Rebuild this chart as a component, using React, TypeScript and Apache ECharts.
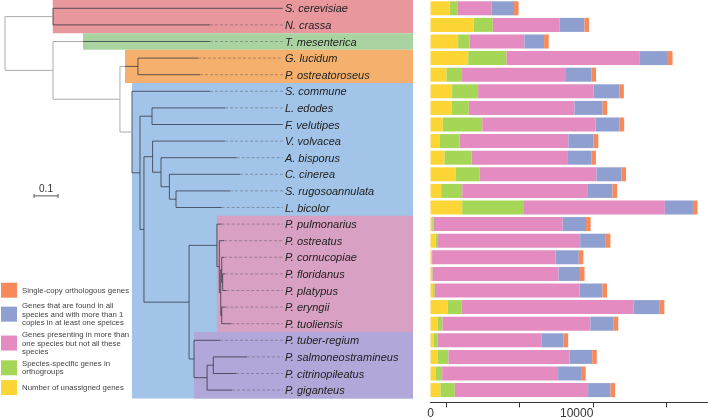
import React, { useEffect, useRef } from "react";
import * as echarts from "echarts";

// ---------- data ----------
const species = [
  "S. cerevisiae", "N. crassa", "T. mesenterica", "G. lucidum", "P. ostreatoroseus",
  "S. commune", "L. edodes", "F. velutipes", "V. volvacea", "A. bisporus",
  "C. cinerea", "S. rugosoannulata", "L. bicolor", "P. pulmonarius", "P. ostreatus",
  "P. cornucopiae", "P. floridanus", "P. platypus", "P. eryngii", "P. tuoliensis",
  "P. tuber-regium", "P. salmoneostramineus", "P. citrinopileatus", "P. giganteus",
];
const unassigned = [1320, 2960, 1890, 2580, 1090, 1480, 1440, 840, 620, 960, 1710, 730, 2170, 120, 360, 70, 110, 180, 1180, 500, 230, 500, 340, 680];
const speciesSpecific = [510, 1300, 790, 2620, 1070, 1780, 1180, 2700, 1370, 1850, 1660, 1440, 4170, 100, 100, 40, 30, 110, 960, 320, 270, 730, 460, 980];
const multiNotAll = [2350, 4580, 3740, 9080, 7050, 7890, 7230, 7750, 7440, 6590, 7980, 8550, 9690, 8820, 9780, 8440, 8620, 9900, 11740, 10120, 7090, 8280, 7930, 9120];
const allMultiCopy = [1530, 1690, 1350, 1960, 1800, 1760, 1920, 1640, 1730, 1600, 1710, 1730, 1920, 1600, 1750, 1590, 1460, 1570, 1800, 1590, 1510, 1550, 1570, 1530];
const singleCopy = [315, 315, 315, 315, 315, 315, 315, 315, 315, 315, 315, 315, 315, 315, 315, 315, 315, 315, 315, 315, 315, 315, 315, 315];

const seriesNames = [
  "Number of unassigned genes",
  "Species-specific genes in\northogroups",
  "Genes presenting in more than\none species but not all these\nspecies",
  "Genes that are found in all\nspecies and with more than 1\ncopies in at least one speices",
  "Single-copy orthologous genes",
];
const seriesColors = ["#FDD535", "#A6D656", "#E48CC2", "#8E9FD0", "#F78A5A"];

const axisLabelValues = [0, 10000];
const axisTickValues = [1100, 6100, 11100, 16100];

// tree (Newick, branch lengths)
const cladeA = "(P. pulmonarius:0.02,(P. ostreatus:0.02,((P. cornucopiae:0.01,(P. floridanus:0.01,P. platypus:0.015):0.004):0.004,(P. eryngii:0.015,P. tuoliensis:0.04):0.004):0.006):0.01)";
const cladeB = "(P. tuber-regium:0.1085,((P. salmoneostramineus:0.14,P. citrinopileatus:0.0945):0.026,P. giganteus:0.104):0.0545)";
const agaricales = "(V. volvacea:0.302,(A. bisporus:0.315,(C. cinerea:0.294,(S. rugosoannulata:0.225,L. bicolor:0.19):0.0275):0.035):0.035)";
const agaricomycetes = "(S. commune:0.325,((L. edodes:0.3045,F. velutipes:0.5455):0.05,(" + agaricales + ":0.036,(" + cladeA + ":0.116," + cladeB + ":0.0205):0.188):0.0165):0.0335)";
const polyporales = "(G. lucidum:0.25,P. ostreatoroseus:0.2585)";
const treeNewick = "((S. cerevisiae:0.958,N. crassa:0.654):0.2,(T. mesenterica:0.654,(" + polyporales + ":0.075," + agaricomycetes + ":0.05):0.279):0.2);";
const scaleBarLength = 0.1;

// highlighted clades
const regionColors = ["#A1C4E8", "#E8979C", "#A9D4A1", "#F4B06C", "#D8A0C2", "#B1A7D8"];
const regionStart = [0.529, 0.199, 0.325, 0.5, 0.883, 0.7875];
const regionFirstRow = [5, 0, 2, 3, 13, 20];
const regionLastRow = [23, 1, 2, 4, 19, 23];

// ---------- layout constants ----------
const FONT = "Liberation Sans, Arial, sans-serif";
const TREE_MAX = 1.7;
const LABEL_DEPTH = 1.158;
const ROW_H = 16.6;
const PLOT_H = ROW_H * species.length;
const LIGHT = 0;
const DARK = 1;
const DASH = 2;
const SCALE = 3;

type TNode = { name: string; len: number; children: TNode[]; depth?: number; y?: number };

function parseNewick(s: string): TNode {
  let i = 0;
  function node(): TNode {
    const n: TNode = { name: "", len: 0, children: [] };
    if (s[i] === "(") {
      i++;
      n.children.push(node());
      while (s[i] === ",") {
        i++;
        n.children.push(node());
      }
      i++;
    }
    let name = "";
    while (i < s.length && !",():;".includes(s[i])) name += s[i++];
    n.name = name.trim();
    if (s[i] === ":") {
      i++;
      let num = "";
      while (i < s.length && !",();".includes(s[i])) num += s[i++];
      n.len = parseFloat(num);
    }
    return n;
  }
  return node();
}

function regionStartForRow(y: number): number {
  const r = Math.round(y);
  let best = Infinity;
  for (let k = 0; k < regionStart.length; k++) {
    if (r >= regionFirstRow[k] && r <= regionLastRow[k]) best = Math.min(best, regionStart[k]);
  }
  return best;
}

function buildSegments() {
  const root = parseNewick(treeNewick);
  const segs: number[][] = [];
  const eps = 0.004;
  function addH(x1: number, x2: number, y: number) {
    const s = regionStartForRow(y);
    if (x2 <= s + eps) segs.push([x1, y, x2, y, LIGHT]);
    else if (x1 >= s - eps) segs.push([x1, y, x2, y, DARK]);
    else {
      segs.push([x1, y, s, y, LIGHT]);
      segs.push([s, y, x2, y, DARK]);
    }
  }
  function addV(x: number, y1: number, y2: number) {
    const inside = regionStartForRow(y1) <= x + eps && regionStartForRow(y2) <= x + eps;
    segs.push([x, y1, x, y2, inside ? DARK : LIGHT]);
  }
  function walk(n: TNode, parentDepth: number, isRoot: boolean) {
    n.depth = isRoot ? 0 : parentDepth + n.len;
    if (n.children.length === 0) {
      n.y = species.indexOf(n.name);
    } else {
      n.children.forEach((c) => walk(c, n.depth!, false));
      const ys = n.children.map((c) => c.y!);
      n.y = (Math.min(...ys) + Math.max(...ys)) / 2;
      addV(n.depth, Math.min(...ys), Math.max(...ys));
    }
    if (!isRoot) addH(parentDepth, n.depth, n.y);
    if (n.children.length === 0 && n.depth < LABEL_DEPTH - eps) {
      segs.push([n.depth, n.y, LABEL_DEPTH, n.y, DASH]);
    }
  }
  walk(root, 0, true);
  return segs;
}

export default function App() {
  const ref = useRef<HTMLDivElement>(null);
  useEffect(() => {
    const chart = echarts.init(ref.current!, null, { renderer: "svg" });
    const segs = buildSegments();
    segs.push([0.121, 11.3, 0.121 + scaleBarLength, 11.3, SCALE]);

    const regionData = regionColors.map((_, k) => [regionStart[k], regionFirstRow[k], regionLastRow[k], k]);
    const labelData = species.map((_, k) => [LABEL_DEPTH, k]);
    const barSeriesData = [unassigned, speciesSpecific, multiNotAll, allMultiCopy, singleCopy];

    const option: any = {
      animation: false,
      textStyle: { fontFamily: FONT },
      grid: [
        { left: 5, right: 295, top: 0, height: PLOT_H, outerBoundsMode: "none" },
        { left: 430.5, right: 0, top: 0, height: PLOT_H, outerBoundsMode: "none" },
      ],
      xAxis: [
        { gridIndex: 0, type: "value", min: 0, max: TREE_MAX, show: false },
        {
          gridIndex: 1,
          type: "value",
          min: 0,
          max: 18980,
          offset: 4,
          axisLine: { show: true, lineStyle: { color: "#333", width: 1 } },
          axisTick: { show: true, customValues: axisTickValues, length: 5, lineStyle: { color: "#333" } },
          axisLabel: {
            customValues: axisLabelValues,
            formatter: (v: number) => String(v),
            fontSize: 12,
            color: "#333",
            margin: 5,
            fontFamily: FONT,
          },
          splitLine: { show: false },
        },
      ],
      yAxis: [
        { gridIndex: 0, type: "value", min: -0.5, max: species.length - 0.5, inverse: true, show: false },
        { gridIndex: 1, type: "category", data: species, inverse: true, show: false },
      ],
      legend: {
        data: [seriesNames[4], seriesNames[3], seriesNames[2], seriesNames[1], seriesNames[0]],
        orient: "vertical",
        left: 1,
        top: 282.7,
        itemWidth: 16,
        itemHeight: 15,
        itemGap: 4,
        icon: "rect",
        selectedMode: false,
        padding: 0,
        textStyle: { fontSize: 7.8, lineHeight: 8.3, color: "#444", fontFamily: FONT },
      },
      graphic: [
        { type: "text", x: 411, y: 16.7, style: { text: "Ascomycota\n(phylum)", align: "right", verticalAlign: "middle", fontSize: 5.8, fontWeight: "bold", lineHeight: 6.8, fill: "#5a4f52", fontFamily: FONT } },
        { type: "text", x: 411, y: 42, style: { text: "Tremellomycetes\n(class)", align: "right", verticalAlign: "middle", fontSize: 5.8, fontWeight: "bold", lineHeight: 6.2, fill: "#4f5a4f", fontFamily: FONT } },
        { type: "text", x: 411, y: 66.5, style: { text: "Polyporales\n(order)", align: "right", verticalAlign: "middle", fontSize: 5.8, fontWeight: "bold", lineHeight: 8.4, fill: "#5a5048", fontFamily: FONT } },
        { type: "text", x: 411, y: 150, style: { text: "Agaricomycetes\n(class)\nAgaricales\n(order)", align: "right", verticalAlign: "middle", fontSize: 5.8, fontWeight: "bold", lineHeight: 5.6, fill: "#4a5568", fontFamily: FONT } },
        { type: "text", x: 407.5, y: 276, rotation: Math.PI / 2, style: { text: "Clade A", align: "center", verticalAlign: "middle", fontSize: 7, fontWeight: "bold", fill: "rgba(255,255,255,0.85)", fontFamily: FONT } },
        { type: "text", x: 408, y: 366.5, rotation: Math.PI / 2, style: { text: "Clade B", align: "center", verticalAlign: "middle", fontSize: 7, fontWeight: "bold", fill: "rgba(255,255,255,0.85)", fontFamily: FONT } },
        { type: "text", x: 46, y: 188, style: { text: "0.1", align: "center", verticalAlign: "middle", fontSize: 10, fill: "#333", fontFamily: FONT } },
      ],
      series: [
        {
          type: "custom",
          xAxisIndex: 0,
          yAxisIndex: 0,
          z: 1,
          silent: true,
          data: regionData,
          encode: { x: 0, y: 1 },
          renderItem: (params: any, api: any) => {
            const p0 = api.coord([api.value(0), api.value(1) - 0.5]);
            const p1 = api.coord([TREE_MAX, api.value(2) + 0.5]);
            return {
              type: "rect",
              shape: { x: p0[0], y: p0[1], width: p1[0] - p0[0], height: p1[1] - p0[1] },
              style: { fill: regionColors[api.value(3)] },
            };
          },
        },
        {
          type: "custom",
          xAxisIndex: 0,
          yAxisIndex: 0,
          z: 2,
          silent: true,
          data: segs,
          encode: { x: [0, 2], y: [1, 3] },
          renderItem: (params: any, api: any) => {
            const a = api.coord([api.value(0), api.value(1)]);
            const b = api.coord([api.value(2), api.value(3)]);
            const kind = api.value(4);
            if (kind === SCALE) {
              const st = { stroke: "#555", lineWidth: 1 };
              return {
                type: "group",
                children: [
                  { type: "line", shape: { x1: a[0], y1: a[1], x2: b[0], y2: b[1] }, style: st },
                  { type: "line", shape: { x1: a[0], y1: a[1] - 2, x2: a[0], y2: a[1] + 2 }, style: st },
                  { type: "line", shape: { x1: b[0], y1: b[1] - 2, x2: b[0], y2: b[1] + 2 }, style: st },
                ],
              };
            }
            let style: any;
            if (kind === DASH) style = { stroke: "rgba(70,70,80,0.5)", lineWidth: 0.8, lineDash: [3, 2] };
            else if (kind === DARK) style = { stroke: "rgba(40,45,60,0.72)", lineWidth: 1 };
            else style = { stroke: "#acacac", lineWidth: 1 };
            return { type: "line", shape: { x1: a[0], y1: a[1], x2: b[0], y2: b[1] }, style };
          },
        },
        {
          type: "custom",
          xAxisIndex: 0,
          yAxisIndex: 0,
          z: 3,
          silent: true,
          data: labelData,
          encode: { x: 0, y: 1 },
          renderItem: (params: any, api: any) => {
            const p = api.coord([api.value(0), api.value(1)]);
            return {
              type: "text",
              x: p[0] + 2,
              y: p[1],
              style: {
                text: species[params.dataIndex],
                fontSize: 11,
                fontStyle: "italic",
                fontFamily: FONT,
                fill: "#222",
                align: "left",
                verticalAlign: "middle",
              },
            };
          },
        },
        ...barSeriesData.map((d, k) => ({
          type: "bar",
          name: seriesNames[k],
          xAxisIndex: 1,
          yAxisIndex: 1,
          stack: "genes",
          barWidth: 14,
          data: d,
          itemStyle: { color: seriesColors[k] },
          silent: true,
        })),
      ],
    };
    chart.setOption(option);
    return () => chart.dispose();
  }, []);
  return <div ref={ref} style={{ position: "fixed", left: 0, top: 0, width: 708, height: 420 }} />;
}
